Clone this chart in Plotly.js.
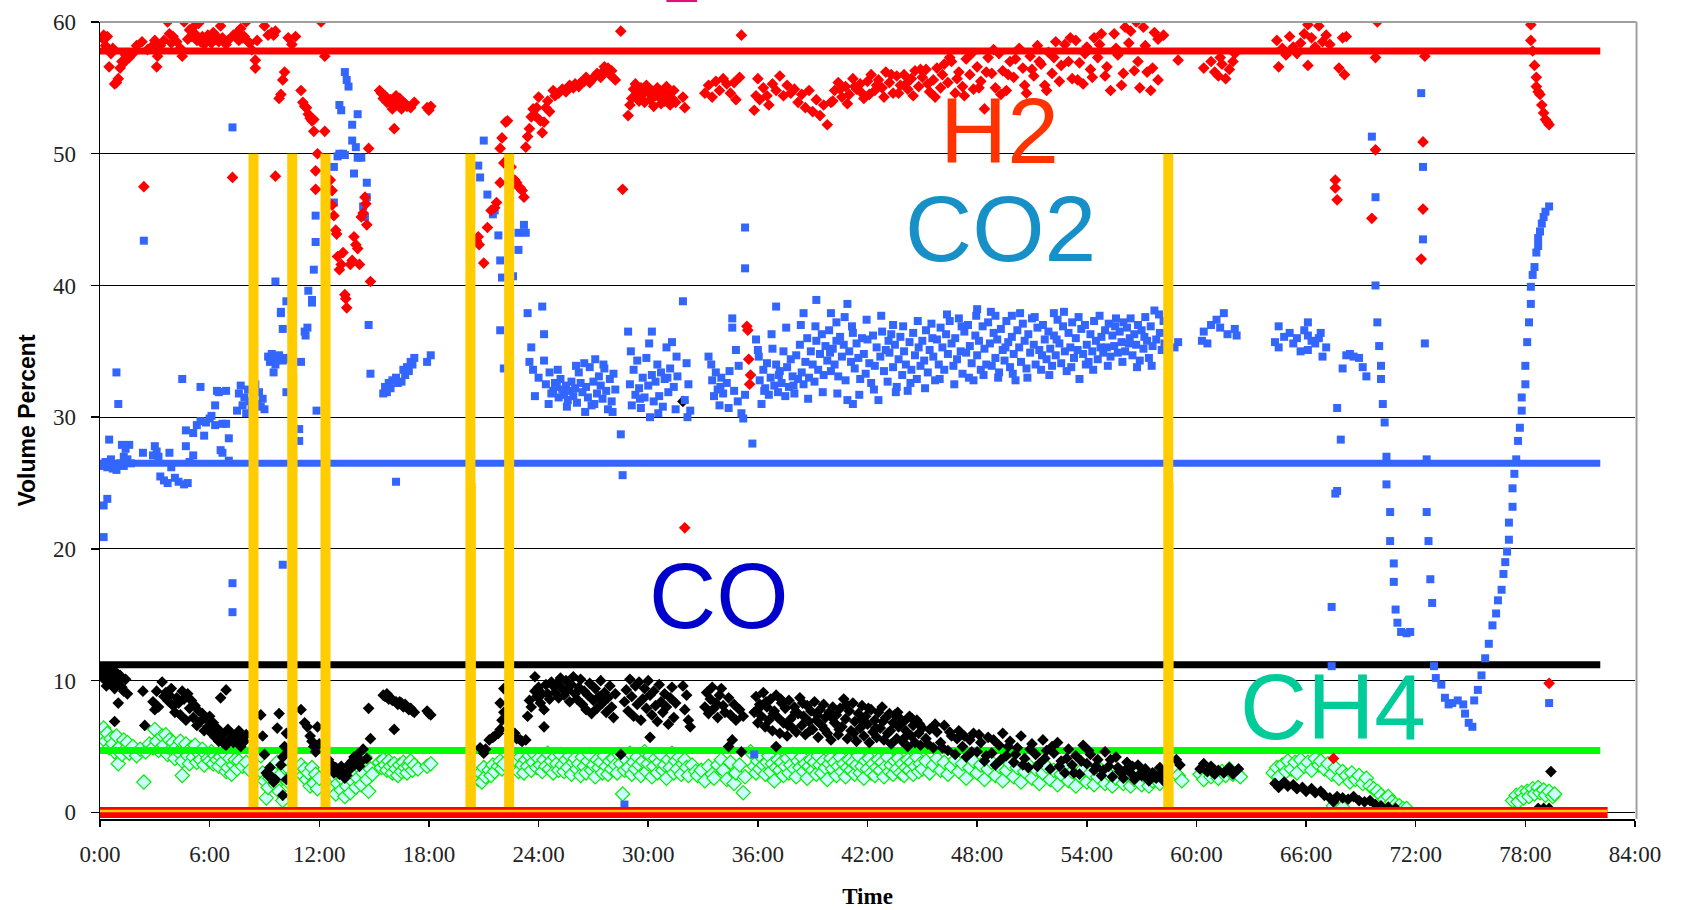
<!DOCTYPE html>
<html>
<head>
<meta charset="utf-8">
<script src="https://cdn.plot.ly/plotly-3.0.1.min.js"></script>
<style>html,body{margin:0;padding:0;background:#fff;}#chart{width:1683px;height:910px;}</style>
</head>
<body>
<div id="chart"></div>
<script>
// ---------- DATA (time in hours, value in volume %) ----------
const xTickVals = [0, 6, 12, 18, 24, 30, 36, 42, 48, 54, 60, 66, 72, 78, 84];
const xTickText = ["0:00", "6:00", "12:00", "18:00", "24:00", "30:00", "36:00", "42:00", "48:00", "54:00", "60:00", "66:00", "72:00", "78:00", "84:00"];
const yTickVals = [0, 10, 20, 30, 40, 50, 60];

// reference (steady) levels, drawn over the run
const refTimes = [0, 82.1];
const h2Level = 57.8;
const co2Level = 26.5;
const coLevel = 11.2;
const ch4Level = 4.7;

// bottom band
const bandTimes = [0, 82.5];
const bandLevel = 0;

// yellow event bars: time, top value
const eventTimes = [8.4, 10.52, 12.34, 20.27, 22.39, 58.46];
const eventTops = [50, 50, 50, 50, 50, 50];
const eventTimes2 = [10.64, 20.4, 58.58];
const eventTops2 = [33.3, 25, 25];

// H2 measurements [time, %]
const h2Data = [
[0.1,58.8],[0.2,59.0],[0.3,58.2],[0.4,58.9],[0.5,56.6],[0.6,57.6],[0.7,58.0],[0.8,55.3],[0.9,55.4],[1.0,55.7],[1.1,56.5],[1.2,57.0],[1.3,56.9],[1.4,57.5],[1.6,57.3],[1.8,57.6],[2.0,58.2],[2.3,58.5],[2.4,47.5],[2.6,57.9],[2.8,58.1],[3.0,58.6],[3.1,56.6],[3.15,57.4],[3.3,58.2],[3.5,58.6],[3.7,60.0],[3.8,59.1],[3.9,58.4],[4.0,58.9],[4.2,58.5],[4.4,58.0],[4.5,57.4],[4.6,60.0],[4.8,58.7],[4.9,59.4],[5.0,58.9],[5.1,59.6],[5.2,59.1],[5.3,58.6],[5.4,59.9],[5.5,58.5],[5.6,58.9],[5.7,58.3],[5.8,58.8],[5.9,59.0],[6.0,58.6],[6.1,58.4],[6.2,59.2],[6.3,58.7],[6.4,58.9],[6.5,58.5],[6.6,59.7],[6.7,58.8],[6.9,58.3],[7.0,58.6],[7.25,48.2],[7.3,59.0],[7.5,59.2],[7.6,58.6],[7.7,59.5],[7.8,58.8],[7.9,58.9],[8.0,60.0],[8.1,58.5],[8.2,58.4],[8.3,57.9],[8.5,57.1],[8.5,56.5],[8.6,58.6],[9.0,59.7],[9.2,59.0],[9.4,59.2],[9.5,59.0],[9.6,59.3],[9.6,48.3],[9.8,54.2],[9.9,54.5],[10.0,55.6],[10.1,56.2],[10.3,58.8],[10.5,58.3],[10.7,58.9],
[11.0,54.8],[11.1,53.9],[11.2,53.6],[11.3,53.5],[11.4,53.0],[11.5,52.7],[11.6,52.5],[11.7,51.7],[11.7,52.6],[11.8,48.7],[11.8,47.3],[11.9,50.0],[12.1,60.0],[12.3,57.4],[12.3,51.7],[12.6,48.0],[12.7,47.2],[12.7,46.1],[12.8,45.3],[12.9,44.2],[12.95,43.9],[13.0,42.2],[13.1,41.2],[13.2,41.6],[13.3,42.5],[13.4,39.3],[13.45,39.0],[13.5,38.3],[13.7,41.6],[13.8,41.9],[13.9,43.7],[14.0,43.1],[14.1,42.8],[14.2,41.6],[14.3,45.2],[14.4,45.5],[14.5,46.7],[14.55,46.2],[14.6,44.6],[14.7,50.4],[14.8,40.3],
[15.3,54.8],[15.4,54.6],[15.5,54.2],[15.6,54.4],[15.7,53.9],[15.8,54.0],[15.9,54.1],[16.0,53.4],[16.1,53.6],[16.1,51.9],[16.2,54.4],[16.3,53.8],[16.4,54.2],[16.5,53.4],[16.6,53.9],[16.7,53.8],[16.8,53.6],[17.0,53.5],[17.2,53.9],[17.9,53.5],[18.0,53.3],[18.1,53.6],
[20.6,43.4],[20.7,43.7],[20.75,43.1],[21.0,41.7],[21.2,44.4],[21.4,45.7],[21.6,45.9],[21.7,46.3],[21.9,47.8],[21.9,50.4],[22.0,51.2],[22.1,49.3],[22.2,52.4],[22.3,52.5],[22.5,49.0],[22.7,48.0],[22.8,47.8],[22.9,47.5],[23.0,47.4],[23.1,47.2],[23.2,46.7],[23.3,50.5],[23.4,51.3],[23.5,51.9],[23.6,52.8],[23.7,53.4],[23.8,52.9],[23.9,53.5],[24.0,54.3],[24.1,52.5],[24.2,51.6],[24.3,52.4],[24.4,53.5],[24.5,54.0],[24.6,53.2],[24.8,54.8],[24.9,54.4],[25.1,54.6],[25.3,54.9],[25.5,54.7],[25.7,55.2],[25.9,55.0],[26.0,55.3],[26.2,55.1],[26.3,55.4],[26.5,55.5],[26.6,55.8],[26.8,55.4],[26.9,55.6],[27.1,55.9],[27.2,56.1],[27.4,55.8],[27.5,56.2],[27.6,56.6],[27.8,56.5],[27.9,56.0],[28.0,56.3],[28.2,55.6],[28.5,59.3],[28.6,47.3],
[28.9,52.9],[29.0,53.7],[29.1,54.2],[29.2,54.9],[29.3,55.3],[29.4,54.6],[29.5,54.0],[29.6,55.0],[29.7,54.5],[29.8,53.9],[29.9,55.2],[30.0,54.7],[30.1,54.1],[30.2,54.8],[30.3,53.6],[30.4,54.4],[30.5,55.0],[30.6,54.3],[30.7,53.8],[30.8,54.6],[30.9,54.0],[31.0,55.1],[31.1,54.5],[31.2,53.7],[31.3,54.2],[31.4,54.8],[31.5,53.9],[31.9,54.3],[32.0,53.5],[32.0,21.6],[33.1,54.6],[33.3,55.2],[33.5,54.3],[33.7,55.5],[33.9,54.8],[34.1,55.7],[34.3,55.3],[34.5,54.6],[34.7,55.4],[34.8,54.1],[35.0,55.8],[35.1,59.0],[35.4,36.9],[35.45,36.6],[35.5,34.4],[35.6,33.2],[35.55,32.5],
[35.8,53.3],[35.9,54.4],[36.0,55.7],[36.1,54.1],[36.3,55.0],[36.5,54.4],[36.6,53.7],[36.8,55.3],[37.0,54.8],[37.2,55.9],[37.4,54.4],[37.6,55.2],[37.8,54.6],[38.0,54.9],[38.2,53.9],[38.4,54.5],[38.6,53.5],[38.8,54.8],[39.0,53.2],[39.2,54.1],[39.4,52.9],[39.6,53.7],[39.8,52.2],[40.0,53.9],[40.2,54.8],[40.4,55.4],[40.6,54.3],[40.8,55.1],[41.0,54.5],[41.2,55.7],[41.4,54.9],[41.6,55.3],[41.8,54.2],[42.0,55.5],[42.2,56.0],[42.4,54.8],[42.6,55.6],[42.8,55.0],[43.0,56.2],[43.2,55.4],[43.4,54.6],[43.6,55.9],[43.8,55.2],[44.0,56.0],[44.2,54.9],[44.4,55.7],[44.6,56.3],[44.8,55.1],[45.0,55.8],[45.2,56.4],[45.4,54.7],[45.6,55.6],[45.8,56.5],[46.0,55.0],[46.2,56.8],[46.4,55.4],[46.6,57.0],[46.8,54.6],[47.0,56.2],[47.2,55.1],[47.4,57.2],[47.6,56.0],[47.8,54.9],[48.0,56.6],[48.2,55.5],[48.4,53.4],[48.6,57.3],[48.8,56.1],[49.0,55.0],[49.2,57.6],[49.4,56.3],[49.6,54.8],[49.8,57.0],[50.0,55.8],[50.3,58.0],[50.5,56.5],[50.7,54.6],[50.9,57.4],[51.1,55.9],[51.3,58.2],[51.5,56.8],[51.7,55.2],[51.9,57.7],[52.1,56.1],[52.3,58.5],[52.5,55.5],[52.8,58.3],[53.0,57.0],[53.2,55.7],[53.4,58.6],[53.6,56.9],[53.8,55.3],[54.0,58.1],[54.2,56.4],[54.4,58.8],[54.6,57.3],[54.8,59.1],[55.0,55.9],[55.3,54.8],[55.5,59.1],[55.7,57.5],[55.9,55.2],[56.1,59.6],[56.3,58.4],[56.6,56.3],[56.7,60.0],[56.9,55.0],[57.1,59.6],[57.3,56.2],[57.5,54.8],[57.7,59.2],[57.9,58.7],[57.9,55.6],[58.2,59.0],[59.0,57.1],[60.4,56.5],[60.8,57.0],[61.0,56.2],[61.2,55.9],[61.3,57.3],[61.4,56.8],[61.6,55.7],[61.8,56.4],[62.0,57.0],[62.1,57.6],
[40.1,54.0],[40.5,54.9],[40.9,53.8],[41.3,55.1],[41.7,54.6],[42.1,54.5],[42.5,55.2],[42.9,54.3],[43.3,56.0],[43.7,54.6],[44.1,55.3],[44.5,54.4],[44.9,56.4],[45.3,55.3],[45.7,54.3],[46.1,56.0],[46.5,57.3],[46.9,55.7],[47.3,54.4],[47.7,57.6],[48.1,55.0],[48.5,56.2],[48.9,57.9],[49.3,54.5],[49.7,56.0],[50.1,57.2],[50.6,55.2],[51.0,56.4],[51.4,57.0],[51.8,54.8],[52.2,57.3],[52.6,56.7],[53.1,58.8],[53.5,55.6],[53.9,57.6],[54.3,55.8],[54.7,58.3],[55.1,56.6],[55.6,58.0],[56.0,56.1],[56.4,59.3],[56.8,57.0],[57.2,58.2],[57.6,56.5],
[64.4,58.6],[64.5,56.6],[64.7,58.0],[64.9,57.5],[65.1,58.9],[65.3,58.1],[65.5,57.6],[65.7,58.4],[65.9,59.1],[66.1,59.8],[66.1,56.7],[66.3,58.8],[66.5,58.1],[66.7,59.7],[66.9,58.5],[67.1,59.0],[67.3,58.3],[67.6,48.0],[67.6,47.4],[67.7,46.5],[67.5,4.1],[67.8,56.5],[68.0,58.8],[68.1,56.0],[68.2,58.9],[69.6,45.1],[69.8,50.3],[69.8,57.3],[69.9,60.0],[72.3,42.0],[72.4,45.8],[72.4,50.9],[72.5,57.4],
[78.3,59.8],[78.3,58.6],[78.4,57.8],[78.5,56.7],[78.6,55.8],[78.6,55.1],[78.7,54.7],[78.8,54.5],[78.9,53.7],[79.0,53.1],[79.1,52.6],[79.2,52.4],[79.3,52.2],[79.3,9.8]
];

// CO2 measurements [time, %]
const co2Data = [
[0.1,26.3],[0.2,20.9],[0.2,23.3],[0.3,26.6],[0.4,23.8],[0.4,26.2],[0.5,28.3],[0.6,26.8],[0.7,26.1],[0.8,26.4],[0.9,33.4],[0.9,26.0],[1.0,31.0],[1.1,26.5],[1.2,27.9],[1.3,27.0],[1.3,26.3],[1.4,27.6],[1.5,26.8],[1.6,27.9],[1.7,26.5],[2.35,27.3],[2.4,43.4],[2.9,27.1],[3.0,27.8],[3.1,27.4],[3.2,27.0],[3.3,25.5],[3.5,25.2],[3.7,25.0],[3.8,27.3],[3.9,26.2],[4.1,25.4],[4.3,25.1],[4.5,32.9],[4.6,24.9],[4.7,29.0],[4.7,27.8],[4.8,25.0],[4.9,26.6],[5.1,28.8],[5.1,27.1],[5.3,29.4],[5.5,32.3],[5.5,29.7],[5.7,28.6],[5.8,29.6],[6.0,29.9],[6.1,30.1],[6.3,30.9],[6.3,29.4],[6.4,32.0],[6.5,31.9],[6.6,27.5],[6.7,27.3],[6.7,29.5],[6.9,32.0],[6.9,29.5],[7.05,28.4],[7.05,26.7],[7.25,52.0],[7.25,17.4],[7.25,15.2],
[7.5,30.5],[7.6,31.8],[7.7,32.4],[7.8,30.9],[7.9,31.5],[8.0,30.3],[8.1,32.1],[8.2,31.2],[8.3,30.6],[8.5,32.5],[8.6,31.0],[8.7,31.9],[8.8,30.8],[8.9,31.4],[9.0,30.6],[9.2,34.6],[9.3,34.2],[9.4,34.8],[9.5,33.4],[9.5,34.4],[9.6,40.3],[9.6,34.0],[9.7,34.5],[9.8,34.7],[9.9,37.9],[9.9,38.0],[10.0,36.7],[10.0,34.3],[10.0,18.8],[10.1,34.5],[10.2,31.9],[10.2,38.8],[10.2,34.4],[10.9,29.1],[10.9,28.2],[11.0,34.2],[11.2,36.5],[11.25,36.2],[11.35,36.8],[11.4,39.6],[11.6,38.9],[11.6,38.7],[11.7,41.2],[11.8,43.3],[11.8,45.3],[11.85,30.5],
[12.8,46.3],[12.8,49.0],[13.0,49.8],[13.1,50.0],[13.1,53.7],[13.2,53.3],[13.3,50.0],[13.4,49.9],[13.4,56.2],[13.5,55.6],[13.6,55.1],[13.8,52.2],[13.8,51.0],[13.9,48.5],[14.0,50.5],[14.1,53.0],[14.1,49.7],[14.3,49.7],[14.4,46.0],[14.5,45.2],[14.6,47.8],[14.6,46.7],[14.7,37.0],[14.8,33.3],[15.5,31.8],[15.6,32.3],[15.7,31.9],[15.8,32.6],[15.9,32.2],[16.0,32.8],[16.2,33.0],[16.2,25.1],[16.3,32.6],[16.5,32.7],[16.6,33.6],[16.7,33.2],[16.8,33.8],[16.9,33.5],[17.0,34.2],[17.1,34.0],[17.2,34.5],[17.9,34.2],[18.1,34.7],
[20.7,49.1],[20.8,48.2],[21.0,51.0],[21.2,46.9],[21.5,45.4],[21.6,45.7],[21.8,43.8],[21.9,41.9],[21.9,36.6],[22.0,40.6],[22.1,33.7],[22.6,40.7],[22.9,44.0],[22.9,42.7],[23.2,44.6],[23.3,44.0],[23.4,37.9],[23.5,34.2],[23.6,35.3],[23.7,33.6],[23.8,31.6],[24.0,33.0],[24.2,38.4],[24.3,36.3],[24.3,34.3],[24.4,32.5],[24.6,33.4],[24.7,31.8],[24.8,32.0],[24.9,32.6],[25.0,32.3],[25.1,31.5],[25.2,32.9],[25.3,32.1],[25.4,31.7],[25.5,32.4],[25.6,31.3],[25.7,32.0],[25.8,32.7],[25.9,31.6],[26.0,32.2],[26.1,31.1],[26.2,33.4],[26.3,32.6],[26.4,31.9],[26.5,34.1],[26.6,32.3],[26.7,31.5],[26.8,33.8],[26.9,30.9],[27.0,32.7],[27.1,34.4],[27.2,31.8],[27.3,33.1],[27.4,32.4],[27.5,31.4],[27.6,33.7],[27.7,32.0],[27.8,30.6],[27.9,32.9],[28.0,31.2],[28.1,33.3],[28.2,32.1],[28.5,28.7],[28.6,25.6],[28.7,0.6],
[28.9,36.5],[29.0,32.5],[29.1,30.9],[29.2,33.6],[29.3,31.7],[29.4,34.3],[29.5,32.2],[29.6,30.7],[29.7,33.0],[29.8,31.5],[29.9,34.5],[30.0,32.4],[30.1,30.0],[30.2,36.5],[30.2,33.2],[30.3,31.2],[30.4,32.7],[30.5,34.0],[30.6,31.6],[30.7,33.4],[30.8,30.8],[30.9,32.9],[31.0,35.3],[31.1,31.9],[31.2,33.7],[31.3,35.7],[31.4,32.3],[31.5,30.6],[31.6,33.1],[31.9,38.8],[32.0,31.3],[32.1,34.1],[32.2,32.5],[32.3,30.5],
[24.55,31.0],[25.05,33.6],[25.55,30.8],[26.05,33.9],[26.55,30.4],[27.05,31.0],[27.55,34.0],[28.05,30.4],[29.05,35.0],[29.55,31.4],[30.05,35.6],[30.55,30.3],[31.05,33.0],[31.55,34.6],[32.15,30.0],[33.45,34.0],[33.95,32.3],[34.45,33.5],[34.95,33.9],
[33.3,34.6],[33.5,32.8],[33.6,31.6],[33.7,33.4],[33.8,32.1],[33.9,30.9],[34.0,33.0],[34.1,31.8],[34.3,32.6],[34.4,30.7],[34.6,37.5],[34.6,36.8],[34.7,32.0],[34.8,35.1],[34.9,31.2],[35.1,30.3],[35.2,29.9],[35.3,44.4],[35.3,41.3],[35.3,31.7],[35.7,28.0],[35.8,4.4],
[35.9,35.9],[36.0,35.1],[36.1,32.8],[36.2,31.0],[36.3,33.6],[36.4,32.2],[36.5,34.1],[36.6,31.7],[36.7,33.0],[36.8,35.2],[36.9,32.4],[37.0,38.4],[37.0,34.0],[37.1,31.9],[37.2,33.5],[37.3,32.6],[37.4,35.0],[37.5,31.6],[37.6,33.8],[37.7,32.3],[37.8,34.4],[37.9,33.1],[38.0,31.8],[38.1,34.7],[38.2,32.9],[38.3,35.5],[38.4,33.4],[38.5,37.9],[38.5,32.5],[38.6,34.2],[38.7,36.0],[38.8,33.0],[38.9,35.0],[39.0,34.0],[39.1,32.7],[39.2,38.9],[39.2,35.8],[39.3,33.6],[39.4,34.8],[39.5,36.3],[39.6,33.2],[39.7,35.4],[39.8,34.3],[39.9,36.6],[40.0,37.9],[40.0,33.5],[40.1,35.2],[40.2,34.0],[40.3,37.2],[40.3,35.8],[40.4,33.1],[40.5,36.1],[40.6,34.6],[40.7,35.5],[40.8,32.8],[40.9,38.6],[40.9,31.3],[41.0,35.0],[41.1,34.2],[41.2,31.0],[41.2,36.4],[41.3,33.7],[41.4,35.6],[41.5,34.5],[41.6,32.9],[41.7,36.0],[41.8,34.8],[41.9,33.3],[42.0,35.9],[42.1,34.1],[42.2,32.6],[42.3,36.2],[42.4,33.9],[42.5,35.3],[42.6,31.3],[42.7,34.6],[42.8,36.5],[42.9,33.5],[43.0,35.1],[43.1,32.7],[43.2,34.9],[43.3,36.3],[43.4,37.0],[43.4,33.8],[43.5,35.5],[43.6,32.3],[43.7,34.4],[43.8,36.1],[43.9,33.2],[44.0,35.0],[44.1,34.0],[44.2,32.0],[44.3,35.7],[44.4,33.6],[44.5,36.4],[44.6,34.7],[44.7,32.9],[44.8,35.3],[44.9,33.9],[45.0,35.8],
[45.1,34.3],[45.2,36.6],[45.3,33.4],[45.4,35.1],[45.5,37.1],[45.6,34.6],[45.7,32.8],[45.8,35.9],[45.9,34.0],[46.0,36.8],[46.1,35.3],[46.2,33.6],[46.3,36.3],[46.4,34.8],[46.5,37.3],[46.6,35.6],[46.7,33.9],[46.8,36.0],[46.9,34.4],[47.0,37.5],[47.1,35.0],[47.2,33.3],[47.3,36.5],[47.4,34.9],[47.5,37.0],[47.6,35.4],[47.7,34.1],[47.8,32.8],[47.9,36.2],[48.0,38.2],[48.0,34.7],[48.1,35.8],[48.2,33.6],[48.3,36.9],[48.4,35.2],[48.5,34.0],[48.6,37.2],[48.7,35.6],[48.8,33.9],[48.9,36.4],[49.0,37.7],[49.0,34.5],[49.1,35.9],[49.2,33.4],[49.3,36.7],[49.4,35.1],[49.5,34.3],[49.6,37.3],[49.7,35.7],[49.8,33.8],[49.9,37.7],[49.9,36.1],[50.0,34.8],[50.1,32.8],[50.2,36.6],[50.3,35.3],[50.4,34.2],[50.5,37.1],[50.6,35.8],[50.7,33.7],[50.8,36.3],[50.9,34.9],[51.0,37.5],[51.1,35.5],[51.2,34.0],[51.3,36.8],[51.4,35.1],[51.5,33.6],[51.6,37.0],[51.7,35.9],[51.8,34.4],[51.9,36.5],[52.0,35.2],[52.1,33.9],[52.2,37.9],[52.2,36.2],[52.3,34.7],[52.4,37.4],[52.5,35.6],[52.6,34.1],[52.7,36.9],[52.8,35.0],[52.9,33.5],[53.0,36.4],[53.1,35.3],[53.2,37.2],[53.3,34.5],[53.4,36.0],[53.5,35.1],[53.6,32.9],[53.7,36.7],[53.8,34.8],[53.9,37.0],[54.0,35.5],[54.1,34.2],[54.2,36.3],[54.3,35.0],[54.4,37.3],[54.5,35.8],[54.6,34.4],[54.7,37.7],[54.8,36.1],[54.9,34.9],[55.0,36.6],[55.1,35.3],[55.2,37.1],[55.3,34.6],[55.4,36.2],[55.5,35.4],[55.6,37.5],[55.7,34.9],[55.8,36.5],[55.9,35.7],[56.0,37.2],[56.1,35.0],[56.2,36.8],[56.3,35.6],[56.4,37.5],[56.5,34.7],[56.6,36.3],[56.7,35.5],[56.8,37.0],[56.9,34.3],[57.0,36.6],[57.1,35.2],[57.2,37.6],[57.3,35.8],[57.4,34.5],[57.5,36.9],[57.6,35.4],[57.7,38.1],[57.8,35.9],[58.0,36.4],[58.1,35.1],[58.2,37.3],
[36.05,34.6],[36.35,32.0],[36.75,36.3],[37.15,33.2],[37.55,36.8],[37.95,32.4],[38.35,37.0],[38.75,31.4],[39.15,36.9],[39.55,31.9],[39.95,34.9],[40.35,31.8],[40.75,37.6],[41.15,36.9],[41.55,31.7],[41.95,37.4],[42.35,32.1],[42.75,37.7],[43.15,35.8],[43.55,31.9],[43.95,36.9],[44.35,32.6],[44.75,37.3],[45.15,32.2],[45.55,36.0],[45.95,32.9],[46.35,37.8],[46.75,32.5],[47.15,36.9],[47.55,33.0],[47.95,37.7],[48.35,33.2],[48.75,38.0],[49.15,33.0],[49.55,35.3],[49.95,33.3],[50.35,37.9],[50.75,33.0],[51.15,37.6],[51.55,34.7],[51.95,33.2],[52.35,35.9],[52.75,38.0],[53.15,33.8],[53.55,37.6],[53.95,34.0],[54.35,33.6],[54.75,35.3],[55.15,33.9],[55.55,36.9],[55.95,34.2],[56.35,36.0],[56.75,33.8],[57.15,36.1],[57.55,33.9],[57.95,37.8],[58.25,35.6],
[58.8,35.3],[59.0,35.7],[60.3,35.8],[60.4,36.5],[60.6,35.6],[60.8,37.0],[61.1,37.4],[61.3,36.8],[61.5,37.9],[61.7,36.3],[62.1,36.7],[62.2,36.2],
[64.3,35.7],[64.5,36.9],[64.5,35.3],[64.8,36.1],[65.1,36.4],[65.3,35.6],[65.5,36.0],[65.7,35.0],[65.9,36.6],[66.1,37.2],[66.1,36.2],[66.1,35.1],[66.3,35.8],[66.5,35.6],[66.7,36.0],[66.8,36.4],[66.9,34.6],[67.1,35.3],[67.4,15.6],[67.4,11.1],[67.6,24.2],[67.7,24.4],[67.7,30.7],[67.9,28.3],[68.0,33.7],[68.2,34.7],[68.4,34.8],[68.6,34.6],[68.9,34.5],[69.1,33.8],[69.3,33.1],
[69.6,51.3],[69.8,46.7],[69.8,40.0],[69.9,37.2],[70.0,35.4],[70.1,33.9],[70.1,32.9],[70.2,31.0],[70.3,29.6],[70.4,27.0],[70.4,24.9],[70.6,22.8],[70.6,20.6],[70.8,18.9],[70.8,17.5],[70.9,15.4],[71.0,14.4],[71.2,13.7],[71.5,13.6],[71.7,13.7],
[72.3,54.6],[72.4,49.0],[72.4,43.5],[72.5,35.6],[72.6,26.8],[72.6,22.8],[72.7,20.6],[72.8,17.7],[72.9,15.9],[73.0,11.1],[73.1,10.2],[73.4,9.7],[73.6,8.7],[73.8,8.2],[74.0,8.3],[74.3,8.5],[74.6,8.2],[74.7,7.5],[74.9,6.8],[75.1,6.5],[75.2,8.5],[75.4,9.3],[75.6,10.4],[75.8,11.7],[76.0,12.8],[76.2,14.2],[76.4,15.1],[76.5,16.1],[76.7,16.9],[76.8,18.1],[76.9,19.0],[77.0,19.8],[77.1,20.7],[77.1,22.0],[77.3,23.2],[77.3,24.6],[77.4,25.7],[77.5,26.8],[77.6,28.2],[77.7,29.2],[77.8,30.5],[77.8,31.5],[78.0,32.5],[78.0,33.9],[78.1,35.7],[78.2,37.2],[78.3,38.6],[78.3,39.9],[78.4,40.8],[78.5,41.4],[78.6,42.5],[78.7,43.0],[78.7,43.6],[78.8,44.1],[78.9,44.7],[79.0,45.2],[79.1,45.6],[79.3,46.0],[79.3,8.3]
];

// CO measurements [time, %]
const coData = [
[0.05,10.8],[0.1,10.3],[0.2,11.0],[0.3,10.0],[0.35,9.6],[0.4,10.5],[0.5,9.8],[0.6,10.9],[0.7,10.2],[0.8,9.4],[0.8,6.9],[0.9,10.6],[1.0,8.3],[1.0,9.9],[1.1,10.4],[1.2,9.5],[1.3,9.2],[1.4,10.1],[1.5,9.0],[2.35,9.2],[2.45,6.6],[2.9,8.4],[3.0,7.8],[3.1,9.2],[3.2,8.0],[3.4,9.9],[3.5,8.8],[3.6,9.1],[3.7,8.5],[3.8,8.9],[3.9,9.4],[4.0,8.1],[4.1,7.6],[4.2,8.7],[4.3,8.3],[4.4,7.4],[4.5,9.2],[4.6,8.6],[4.7,7.0],[4.8,9.0],[4.9,7.9],[5.0,8.5],[5.1,7.2],[5.2,8.1],[5.3,6.6],[5.4,7.7],[5.5,6.9],[5.6,7.5],[5.7,6.2],[5.8,7.1],[5.9,6.5],[6.0,7.3],[6.1,6.0],[6.2,6.8],[6.3,5.7],[6.4,6.4],[6.5,5.4],[6.6,8.7],[6.6,6.1],[6.7,5.9],[6.8,5.2],[6.9,9.3],[6.9,5.1],[7.0,6.3],[7.1,5.6],[7.2,6.0],[7.3,5.3],[7.4,5.8],[7.5,5.5],[7.6,6.2],[7.7,5.0],[7.8,5.7],[7.9,5.4],[8.0,5.9],
[8.8,7.4],[8.9,5.8],[9.0,4.4],[9.1,3.0],[9.2,2.8],[9.3,3.4],[9.4,2.7],[9.5,2.3],[9.6,2.5],[9.7,6.4],[9.8,7.5],[9.9,3.6],[10.0,4.2],[10.0,1.3],[10.1,5.0],[10.2,6.0],[10.2,2.5],[10.3,4.6],[11.0,7.8],[11.2,6.8],[11.35,6.5],[11.5,5.8],[11.6,5.4],[11.7,5.0],[11.8,4.6],[11.9,6.5],[12.0,5.2],[12.5,4.0],[12.6,3.4],[12.7,3.6],[12.8,3.0],[12.9,3.4],[13.0,3.2],[13.1,2.9],[13.2,3.5],[13.3,3.0],[13.4,2.6],[13.5,2.8],[13.6,3.6],[13.7,3.3],[13.8,3.9],[13.9,4.2],[14.0,3.7],[14.1,4.4],[14.2,3.5],[14.3,3.9],[14.4,4.8],[14.6,4.1],[14.7,7.9],[14.8,5.6],
[15.5,8.9],[15.6,8.8],[15.7,9.0],[15.8,8.6],[15.9,8.7],[16.0,8.5],[16.1,6.3],[16.2,8.4],[16.3,8.2],[16.4,8.4],[16.5,8.3],[16.6,8.0],[16.7,8.2],[16.8,8.0],[16.9,7.8],[17.0,7.9],[17.1,7.7],[17.2,7.6],[17.9,7.7],[18.0,7.5],[18.1,7.4],
[20.8,4.9],[21.0,4.5],[21.1,4.8],[21.3,5.5],[21.5,5.7],[21.6,5.8],[21.8,6.0],[21.9,6.3],[22.0,7.0],[22.1,7.6],[21.9,8.3],[22.1,9.4],[22.7,6.0],[22.8,5.6],[23.0,5.5],[23.1,5.4],[23.3,5.5],[23.4,7.3],[23.5,8.5],[23.6,8.0],[23.8,9.2],[23.8,10.3],[23.9,8.8],[24.0,9.5],[24.1,8.3],[24.2,9.0],[24.3,7.8],[24.3,6.5],[24.4,9.7],[24.5,9.0],[24.6,8.6],[24.7,9.9],[24.8,9.6],[24.9,9.1],[25.0,9.8],[25.1,8.7],[25.2,10.2],[25.3,9.4],[25.4,8.9],[25.5,10.0],[25.6,9.3],[25.7,8.4],[25.8,9.7],[25.9,10.3],[26.0,9.0],[26.1,8.6],[26.2,9.5],[26.3,10.1],[26.4,8.2],[26.5,9.2],[26.6,7.8],[26.7,8.9],[26.8,9.8],[26.9,7.5],[27.0,8.5],[27.1,9.4],[27.2,7.9],[27.3,8.8],[27.4,10.0],[27.5,8.3],[27.6,9.1],[27.7,7.6],[27.8,8.7],[27.9,9.6],[28.0,8.0],[28.1,7.2],[28.2,9.0],[28.5,4.4],
[28.7,8.4],[28.8,9.3],[28.9,7.7],[29.0,10.1],[29.1,8.8],[29.2,7.3],[29.3,9.6],[29.4,8.2],[29.5,9.9],[29.6,7.0],[29.7,8.6],[29.8,9.4],[29.9,7.9],[30.0,10.0],[30.1,5.7],[30.1,8.9],[30.2,7.4],[30.3,9.2],[30.4,8.1],[30.5,6.9],[30.6,9.7],[30.7,8.4],[30.8,7.6],[30.9,9.0],[31.0,8.0],[31.1,6.7],[31.2,8.7],[31.3,9.5],[31.4,7.2],[31.5,8.3],[31.9,9.6],[31.9,31.2],[32.0,7.8],[32.1,8.9],[32.2,7.0],[32.3,6.5],
[33.1,8.0],[33.2,9.1],[33.3,7.5],[33.4,8.6],[33.5,9.5],[33.6,7.9],[33.7,8.3],[33.8,7.2],[33.9,8.9],[34.0,9.4],[34.1,8.1],[34.2,7.6],[34.4,5.0],[34.4,8.7],[34.5,7.4],[34.6,5.5],[34.7,8.2],[34.8,7.0],[35.0,7.8],[35.1,4.6],[35.2,7.3],
[35.8,7.6],[35.9,8.8],[36.0,6.8],[36.1,8.2],[36.2,7.3],[36.3,9.1],[36.4,6.5],[36.5,8.0],[36.6,7.0],[36.7,8.6],[36.8,6.2],[36.9,7.7],[37.0,5.0],[37.0,8.9],[37.1,7.2],[37.2,6.0],[37.3,8.3],[37.4,6.8],[37.5,7.9],[37.6,5.8],[37.7,8.5],[37.8,7.1],[37.9,6.4],[38.0,8.0],[38.1,6.1],[38.2,7.5],[38.3,8.7],[38.4,6.6],[38.5,7.3],[38.6,5.9],[38.7,8.1],[38.8,6.9],
[38.9,7.7],[39.0,6.3],[39.1,8.4],[39.2,7.0],[39.3,5.7],[39.4,7.8],[39.5,6.6],[39.6,8.2],[39.7,7.2],[39.8,6.0],[39.9,7.6],[40.0,5.5],[40.1,8.0],[40.2,6.8],[40.3,7.4],[40.4,5.9],[40.5,7.9],[40.6,6.5],[40.7,8.6],[40.8,7.1],[40.9,5.6],[41.0,7.7],[41.1,6.2],[41.2,8.3],[41.3,6.9],[41.4,5.4],[41.5,7.5],[41.6,6.4],[41.7,8.1],[41.8,5.8],[41.9,7.3],[42.0,6.7],[42.1,5.3],[42.2,7.8],[42.3,6.1],[42.4,7.0],[42.5,5.7],[42.6,7.6],[42.7,6.4],[42.8,8.0],[42.9,5.5],[43.0,7.2],[43.1,6.0],[43.2,7.5],[43.3,5.2],[43.4,6.8],[43.5,7.4],[43.6,5.6],[43.7,6.5],[43.8,7.1],[43.9,5.4],[44.0,6.9],[44.1,6.2],[44.2,5.0],[44.3,7.3],[44.4,5.8],[44.5,6.6],[44.6,5.3],[44.7,7.0],[44.8,6.0],[44.9,5.1],[45.0,6.4],
[36.05,7.9],[36.45,8.4],[36.85,7.5],[37.25,8.6],[37.65,6.6],[38.05,7.6],[38.45,8.3],[38.85,6.2],[39.25,7.4],[39.65,6.3],[40.05,7.2],[40.45,6.3],[40.85,8.2],[41.25,6.0],[41.65,7.0],[42.05,7.9],[42.45,6.4],[42.85,6.9],[43.25,6.2],[43.65,7.6],[44.05,5.7],[44.45,7.1],[44.85,6.7],[45.3,5.2],[45.7,6.7],[46.1,4.9],[46.5,6.1],[46.9,5.6],[47.3,5.8],[47.7,4.6],[48.1,5.9],[48.5,4.3],[48.9,5.5],[49.3,4.0],[49.7,5.0],[50.1,4.4],[50.5,3.6],[50.9,4.8],[51.3,3.5],[51.7,4.1],[52.1,5.0],[52.5,3.5],[52.9,4.1],[53.3,3.0],[53.7,3.9],[54.1,4.7],[54.5,3.5],[54.9,3.2],[55.3,4.0],[55.7,3.4],[56.1,3.2],[56.5,3.5],[56.9,2.9],[57.3,2.6],[57.7,2.9],[58.1,3.0],
[45.2,5.6],[45.4,6.3],[45.6,4.9],[45.8,6.1],[46.0,5.3],[46.2,6.6],[46.4,4.7],[46.6,5.8],[46.8,4.4],[47.0,6.2],[47.2,5.0],[47.4,4.2],[47.6,5.5],[47.8,6.0],[48.0,4.6],[48.2,5.3],[48.4,3.9],[48.6,5.7],[48.8,4.5],[49.0,3.6],[49.2,5.1],[49.4,6.0],[49.6,4.3],[49.8,5.4],[50.0,3.8],[50.2,4.9],[50.4,5.8],[50.6,4.1],[50.8,3.4],[51.0,5.2],[51.2,4.4],[51.4,3.7],[51.6,5.5],[51.8,4.7],[52.0,3.3],[52.2,4.5],[52.4,5.3],[52.6,3.9],[52.8,3.0],[53.0,4.8],[53.2,3.6],[53.4,4.3],[53.6,2.9],[53.8,5.1],[54.0,3.7],[54.2,4.4],[54.4,3.2],[54.6,4.0],[54.8,2.8],[55.0,4.6],[55.2,3.5],[55.4,2.7],[55.6,4.2],[55.8,3.1],[56.0,2.6],[56.2,3.8],[56.4,3.0],[56.6,2.5],[56.8,3.6],[57.0,2.8],[57.2,3.3],[57.4,2.4],[57.6,3.0],[57.8,2.6],[58.0,3.4],[58.2,2.4],[58.9,4.0],[59.1,3.6],
[60.2,3.3],[60.4,3.7],[60.6,3.1],[60.8,3.5],[61.0,2.9],[61.2,3.2],[61.5,3.0],[61.8,3.4],[62.0,2.9],[62.3,3.3],
[64.3,2.2],[64.5,1.9],[64.8,2.3],[65.0,2.0],[65.3,2.1],[65.5,1.8],[65.8,1.9],[66.0,1.6],[66.3,1.8],[66.5,1.5],[66.8,1.6],[67.0,1.3],[67.3,1.1],[67.5,0.8],[67.7,1.2],[68.0,1.1],[68.3,1.0],[68.6,1.2],[68.9,0.9],[69.2,0.8],[69.5,0.9],[69.8,0.6],[70.1,0.5],[70.5,0.4],[70.9,0.3],[79.4,3.1],[78.7,0.3],[79.0,0.3],[79.3,0.3]
];

// CH4 measurements [time, %]
const ch4Data = [
[0.1,5.9],[0.2,6.4],[0.3,5.4],[0.4,6.0],[0.5,4.9],[0.6,5.6],[0.7,5.2],[0.8,4.6],[0.9,5.8],[1.0,3.7],[1.1,5.0],[1.2,4.4],[1.3,5.5],[1.4,4.8],[1.5,5.3],[1.6,4.5],[1.8,5.0],[2.0,4.3],[2.2,4.8],[2.4,2.3],[2.5,4.6],[2.7,5.2],[2.9,4.9],[3.0,6.3],[3.1,5.4],[3.2,4.7],[3.4,5.8],[3.5,5.1],[3.6,5.9],[3.7,4.4],[3.8,5.5],[3.9,4.8],[4.0,5.3],[4.1,4.1],[4.2,5.0],[4.3,4.6],[4.4,5.4],[4.5,2.8],[4.5,3.9],[4.6,4.7],[4.7,5.2],[4.8,4.3],[4.9,3.7],[5.0,4.9],[5.1,4.2],[5.2,5.1],[5.3,3.8],[5.4,4.5],[5.5,4.0],[5.6,4.8],[5.7,3.6],[5.8,4.4],[5.9,4.1],[6.0,3.9],[6.1,4.6],[6.2,3.7],[6.3,4.3],[6.4,4.0],[6.5,3.5],[6.6,4.2],[6.7,3.8],[6.8,4.5],[6.9,3.1],[7.0,3.4],[7.1,4.1],[7.2,2.9],[7.3,3.6],[7.4,4.0],[7.5,3.3],[7.6,3.9],[7.8,3.5],[8.0,3.8],[8.2,3.2],
[8.8,4.3],[8.9,3.0],[9.0,2.4],[9.1,1.1],[9.2,1.9],[9.3,2.6],[9.4,2.7],[9.5,3.2],[9.6,2.1],[9.7,3.8],[9.8,1.6],[9.9,2.9],[10.0,0.9],[10.1,3.4],[10.2,3.5],[10.2,4.1],[10.3,2.3],[11.0,3.6],[11.1,2.8],[11.2,3.3],[11.3,2.5],[11.4,3.0],[11.5,2.0],[11.6,3.4],[11.7,2.2],[11.8,2.9],[11.9,1.8],[12.0,2.6],[12.5,3.1],[12.6,2.4],[12.7,1.8],[12.8,2.7],[12.9,1.4],[13.0,2.2],[13.1,3.0],[13.2,1.7],[13.3,2.5],[13.4,1.2],[13.5,2.0],[13.6,2.8],[13.7,1.5],[13.8,2.4],[13.9,3.2],[14.0,1.9],[14.1,2.6],[14.2,3.4],[14.3,2.1],[14.4,3.0],[14.5,4.2],[14.6,2.5],[14.7,1.6],[14.8,3.3],[14.9,2.9],
[15.3,3.8],[15.4,3.4],[15.5,4.0],[15.6,3.6],[15.7,3.2],[15.8,3.9],[15.9,3.5],[16.0,3.0],[16.1,3.7],[16.2,3.3],[16.3,2.8],[16.4,3.6],[16.5,3.1],[16.6,3.8],[16.7,3.4],[16.8,3.0],[16.9,3.5],[17.0,3.9],[17.1,3.2],[17.2,3.6],[17.4,3.3],[17.9,3.5],[18.1,3.7],
[20.7,2.5],[20.8,3.0],[20.9,2.3],[21.0,3.4],[21.1,2.7],[21.3,3.2],[21.4,2.8],[21.5,3.6],[21.6,3.1],[21.8,3.5],[21.9,3.9],[22.0,3.3],[22.1,3.7],[22.7,3.4],[22.8,3.9],[22.9,3.1],[23.0,4.2],[23.1,3.6],[23.2,3.0],[23.3,4.0],[23.4,3.5],[23.5,4.3],[23.6,3.2],[23.7,3.8],[23.8,4.4],[23.9,3.4],[24.0,4.1],[24.1,3.6],[24.2,3.1],[24.3,4.0],[24.4,3.5],[24.5,4.5],[24.6,3.3],[24.7,3.9],[24.8,3.0],[24.9,4.2],[25.0,3.7],[25.1,3.2],[25.2,4.4],[25.3,3.6],[25.4,3.1],[25.5,4.0],[25.6,3.4],[25.7,4.3],[25.8,2.9],[25.9,3.8],[26.0,4.1],[26.1,3.3],[26.2,3.7],[26.3,2.8],[26.4,4.2],[26.5,3.5],[26.6,3.0],[26.7,3.9],[26.8,4.4],[26.9,3.2],[27.0,3.6],[27.1,2.7],[27.2,4.0],[27.3,3.4],[27.4,3.8],[27.5,3.0],[27.6,4.3],[27.7,3.5],[27.8,2.9],[27.9,3.9],[28.0,3.3],[28.1,4.1],[28.2,3.6],[28.3,3.0],[28.4,4.4],[28.5,3.7],[28.6,1.4],[28.7,3.2],[28.8,4.0],[28.9,3.4],[29.0,4.5],[29.1,2.9],[29.2,3.8],[29.3,3.3],[29.4,4.2],[29.5,3.6],[29.6,2.8],[29.7,3.9],[29.8,4.6],[29.9,3.1],[30.0,3.7],[30.1,4.3],[30.2,2.7],[30.3,3.5],[30.4,4.1],[30.5,3.0],[30.6,3.8],[30.7,4.4],[30.8,3.2],[30.9,3.6],[31.0,2.6],[31.1,4.0],[31.2,3.4],[31.3,4.5],[31.4,3.0],[31.5,3.9],[31.6,3.3],[31.7,4.2],[31.8,2.9],[31.9,3.7],[32.0,4.0],[32.1,3.4],[32.2,2.8],[32.4,3.6],[32.6,3.1],
[32.7,2.8],[32.9,3.2],[33.1,2.4],[33.3,3.5],[33.5,2.9],[33.6,2.6],[33.8,3.6],[34.0,4.0],[34.1,3.2],[34.3,2.5],[34.5,3.8],[34.7,2.2],[34.8,3.0],[35.0,3.6],[35.2,1.5],[35.3,2.7],[35.6,4.6],
[35.8,3.5],[35.9,3.0],[36.0,3.9],[36.1,3.3],[36.2,4.2],[36.3,3.6],[36.4,2.9],[36.5,3.8],[36.6,4.3],[36.7,3.1],[36.8,3.7],[36.9,2.4],[37.0,3.4],[37.1,4.0],[37.2,3.2],[37.3,3.8],[37.4,2.8],[37.5,3.5],[37.6,4.1],[37.7,3.0],[37.8,3.6],[37.9,4.4],[38.0,3.3],[38.1,2.7],[38.2,3.9],[38.3,3.4],[38.4,4.2],[38.5,3.1],[38.6,3.7],[38.7,2.6],[38.8,3.5],[38.9,4.0],[39.0,3.2],[39.1,3.8],[39.2,2.9],[39.3,4.3],[39.4,3.6],[39.5,3.0],[39.6,3.9],[39.7,3.4],[39.8,2.5],[39.9,3.7],[40.0,4.1],[40.1,3.3],[40.2,3.8],[40.3,2.8],[40.4,3.5],[40.5,4.2],[40.6,3.1],[40.7,3.7],[40.8,2.7],[40.9,3.4],[41.0,4.0],[41.1,3.2],[41.2,3.8],[41.3,2.9],[41.4,3.6],[41.5,4.3],[41.6,3.0],[41.7,3.5],[41.8,2.6],[41.9,3.9],[42.0,3.3],[42.1,4.1],[42.2,3.0],[42.3,3.7],[42.4,2.8],[42.5,3.4],[42.6,4.0],[42.7,3.2],[42.8,3.8],[42.9,2.7],[43.0,3.5],[43.1,4.2],[43.2,3.1],[43.3,3.6],[43.4,2.9],[43.5,3.9],[43.6,3.3],[43.7,4.1],[43.8,3.0],[43.9,3.7],[44.0,2.8],[44.1,3.4],[44.2,4.0],[44.3,3.2],[44.4,3.8],[44.5,2.9],[44.6,3.5],[44.7,4.2],[44.8,3.1],[44.9,3.7],[45.0,3.3],
[45.2,3.9],[45.4,3.0],[45.6,3.6],[45.8,4.1],[46.0,3.2],[46.2,3.8],[46.4,2.9],[46.6,3.5],[46.8,4.0],[47.0,3.1],[47.2,3.7],[47.4,2.6],[47.6,3.4],[47.8,3.9],[48.0,3.0],[48.2,3.6],[48.4,2.5],[48.6,3.3],[48.8,3.8],[49.0,2.8],[49.2,3.5],[49.4,2.4],[49.6,3.2],[49.8,3.7],[50.0,2.7],[50.2,3.4],[50.4,2.3],[50.6,3.1],[50.8,3.6],[51.0,2.6],[51.2,3.3],[51.4,2.2],[51.6,3.0],[51.8,3.5],[52.0,2.5],[52.2,3.2],[52.4,2.1],[52.6,2.9],[52.8,3.4],[53.0,2.4],[53.2,3.1],[53.4,2.0],[53.6,2.8],[53.8,3.3],[54.0,2.3],[54.2,3.0],[54.4,2.1],[54.6,2.7],[54.8,3.2],[55.0,2.2],[55.2,2.9],[55.4,2.0],[55.6,2.6],[55.8,3.1],[56.0,2.2],[56.2,2.8],[56.4,2.0],[56.6,2.5],[56.8,3.0],[57.0,2.1],[57.2,2.7],[57.4,2.0],[57.6,2.4],[57.8,2.9],[58.0,2.2],[58.2,2.6],[59.0,2.8],[59.2,2.4],
[60.2,2.9],[60.4,2.5],[60.6,3.2],[60.8,2.7],[61.0,3.0],[61.2,2.6],[61.4,3.1],[61.6,2.8],[61.8,3.3],[62.0,2.9],[62.2,3.0],[62.4,2.7],
[64.2,3.0],[64.4,3.4],[64.5,2.7],[64.7,3.6],[64.9,3.1],[65.0,3.9],[65.2,3.3],[65.4,3.8],[65.5,3.0],[65.7,4.0],[65.9,3.5],[66.1,3.8],[66.3,3.2],[66.5,4.1],[66.7,3.6],[66.8,3.9],[67.0,3.3],[67.2,3.7],[67.4,2.9],[67.6,3.4],[67.8,2.6],[68.0,3.1],[68.2,2.8],[68.4,2.3],[68.5,3.0],[68.7,2.5],[68.9,2.8],[69.1,2.2],[69.3,2.6],[69.5,2.0],[69.7,1.8],[69.9,1.6],[70.1,1.3],[70.3,1.0],[70.5,1.2],[70.7,0.8],[70.9,0.6],[71.1,0.5],[71.3,0.3],[71.5,0.3],[67.5,0.5],[68.0,0.4],
[77.3,0.9],[77.5,1.3],[77.6,0.8],[77.8,1.5],[77.9,1.1],[78.1,1.6],[78.2,1.2],[78.4,1.8],[78.5,1.4],[78.7,1.9],[78.8,1.5],[79.0,1.7],[79.1,1.3],[79.3,1.6],[79.5,1.2],[79.6,1.4]
];

// gas labels drawn on the chart
const gasLabels = ["H2", "CO2", "CO", "CH4"];
const gasLabelTimes = [49.2, 49.3, 33.9, 67.5];
const gasLabelValues = [51.7, 44.3, 16.4, 8.0];
const gasLabelColors = ["#FF3300", "#1790C8", "#0000CC", "#00CC99"];

// ---------- BUILD ----------
const col = (arr, i) => arr.map(p => p[i]);

function barTrace(times, tops, width) {
  const x = [], y = [];
  times.forEach((t, i) => { x.push(t, t, null); y.push(0, tops[i], null); });
  return {x, y, type: 'scatter', mode: 'lines', line: {color: '#FFCC00', width: width}, hoverinfo: 'skip', showlegend: false};
}
function refTrace(level, color) {
  return {x: refTimes, y: refTimes.map(() => level), type: 'scatter', mode: 'lines',
          line: {color: color, width: 7}, hoverinfo: 'skip', showlegend: false};
}

const traces = [
  {x: col(ch4Data, 0), y: col(ch4Data, 1), type: 'scatter', mode: 'markers', name: 'CH4',
   marker: {symbol: 'diamond', size: 11, color: '#CCFFFF', line: {color: '#00EE00', width: 1.2}}},
  refTrace(ch4Level, '#00FF00'),
  {x: col(coData, 0), y: col(coData, 1), type: 'scatter', mode: 'markers', name: 'CO',
   marker: {symbol: 'diamond', size: 9, color: '#000000'}},
  refTrace(coLevel, '#000000'),
  {x: col(co2Data, 0), y: col(co2Data, 1), type: 'scatter', mode: 'markers', name: 'CO2',
   marker: {symbol: 'square', size: 8, color: '#3366FF'}},
  refTrace(co2Level, '#3366FF'),
  {x: col(h2Data, 0), y: col(h2Data, 1), type: 'scatter', mode: 'markers', name: 'H2',
   marker: {symbol: 'diamond', size: 9, color: '#FF0000'}},
  refTrace(h2Level, '#FF0000'),
  barTrace(eventTimes, eventTops, 10),
  barTrace(eventTimes2, eventTops2, 6),
  {x: bandTimes, y: bandTimes.map(() => bandLevel), type: 'scatter', mode: 'lines',
   line: {color: '#FF0000', width: 11}, hoverinfo: 'skip', showlegend: false},
  {x: bandTimes, y: bandTimes.map(() => bandLevel + 0.1), type: 'scatter', mode: 'lines',
   line: {color: '#FFCC00', width: 2.5}, hoverinfo: 'skip', showlegend: false}
];

const annotations = gasLabels.map((t, i) => ({
  x: gasLabelTimes[i], y: gasLabelValues[i], xref: 'x', yref: 'y', text: t, showarrow: false,
  font: {family: 'Liberation Sans, Arial, sans-serif', size: 93, color: gasLabelColors[i]},
  xanchor: 'center', yanchor: 'middle'
}));

const layout = {
  width: 1683, height: 910,
  margin: {l: 100, r: 48, t: 22, b: 91},
  paper_bgcolor: '#ffffff', plot_bgcolor: '#ffffff',
  showlegend: false,
  font: {family: 'Liberation Serif, Times New Roman, serif', color: '#222222'},
  xaxis: {
    range: [0, 84], tickvals: xTickVals, ticktext: xTickText,
    showgrid: false, zeroline: false, showline: true, linecolor: '#000000', linewidth: 1.5,
    ticks: 'outside', ticklen: 6, tickcolor: '#000000', tickwidth: 1.5,
    tickfont: {family: 'Liberation Serif, Times New Roman, serif', size: 23, color: '#222222'},
    ticklabelstandoff: 8,
    title: {text: 'Time', standoff: 22, font: {family: 'Liberation Serif, Times New Roman, serif', size: 23, color: '#000000', weight: 'bold'}},
    automargin: false, fixedrange: true
  },
  yaxis: {
    range: [-0.5, 60], tickvals: yTickVals,
    showgrid: true, gridcolor: '#000000', gridwidth: 1,
    zeroline: false, showline: true, linecolor: '#000000', linewidth: 1.5,
    ticks: 'outside', ticklen: 8, tickcolor: '#000000', tickwidth: 1.5,
    tickfont: {family: 'Liberation Serif, Times New Roman, serif', size: 23, color: '#222222'},
    ticklabelstandoff: 10,
    title: {text: 'Volume Percent', standoff: 11, font: {family: 'Liberation Sans, Arial, sans-serif', size: 23, color: '#000000', weight: 'bold'}},
    automargin: false, fixedrange: true
  },
  shapes: [
    {type: 'line', xref: 'paper', yref: 'paper', x0: 0, x1: 1.001, y0: 1, y1: 1, line: {color: '#A0A0A0', width: 2}},
    {type: 'line', xref: 'paper', yref: 'paper', x0: 1.001, x1: 1.001, y0: 0, y1: 1, line: {color: '#A0A0A0', width: 2}},
    {type: 'rect', xref: 'paper', yref: 'paper', x0: 0.369, x1: 0.389, y0: 1.0250, y1: 1.0290, fillcolor: '#E0107A', line: {width: 0}}
  ],
  annotations: annotations
};

Plotly.newPlot('chart', traces, layout, {displayModeBar: false, staticPlot: true});
</script>
</body>
</html>
